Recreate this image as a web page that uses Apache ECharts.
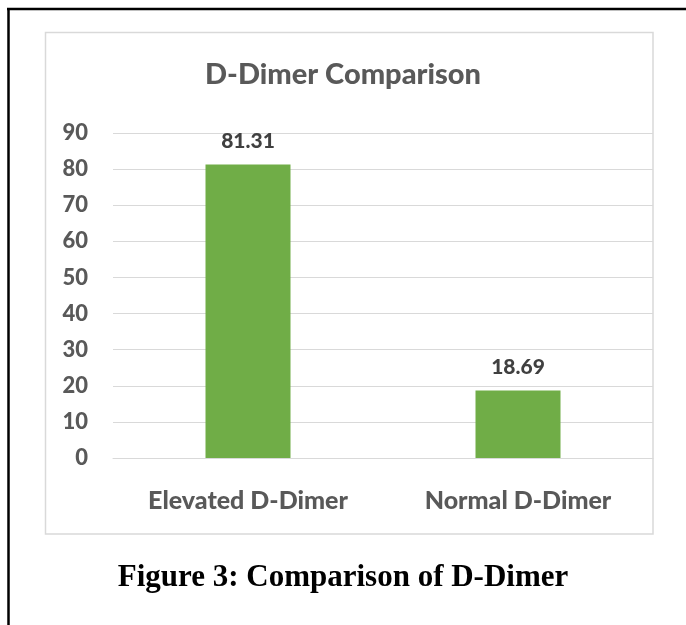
<!DOCTYPE html>
<html><head><meta charset="utf-8">
<script src="https://cdn.jsdelivr.net/npm/echarts@6/dist/echarts.min.js"></script>
<style>html,body{margin:0;padding:0;background:#fff}#c{width:686px;height:625px}</style>
</head><body><div id="c"></div>
<script>
const categories = ["Elevated D-Dimer", "Normal D-Dimer"];
const values = [81.31, 18.69];
const yTicks = [0, 10, 20, 30, 40, 50, 60, 70, 80, 90];
const chartTitle = "D-Dimer Comparison";
const caption = "Figure 3: Comparison of D-Dimer";

const chart = echarts.init(document.getElementById('c'), null, {renderer: 'canvas'});
chart.setOption({
  backgroundColor: '#fff',
  animation: false,
  title: {
    text: chartTitle, left: 'center', top: 55,
    textStyle: {fontFamily: 'Lato', fontWeight: 900, fontSize: 29, color: '#595959'}
  },
  graphic: [
    {type: 'line', shape: {x1: 7, y1: 9, x2: 686, y2: 9}, style: {stroke: '#000', lineWidth: 2.5}},
    {type: 'line', shape: {x1: 8.5, y1: 8, x2: 8.5, y2: 625}, style: {stroke: '#000', lineWidth: 2.5}},
    {type: 'rect', shape: {x: 45.5, y: 32.5, width: 607.5, height: 501.5}, style: {fill: 'none', stroke: '#d9d9d9', lineWidth: 1.5}},
    {type: 'text', left: 'center', top: 562, style: {text: caption, font: 'bold 31px "Liberation Serif", "Times New Roman", serif', fill: '#000'}}
  ],
  grid: {left: 113, right: 33, top: 133, bottom: 167, containLabel: false},
  xAxis: {
    type: 'category', data: categories,
    axisLine: {show: true, lineStyle: {color: '#d9d9d9', width: 1}},
    axisTick: {show: false},
    axisLabel: {fontFamily: 'Lato', fontWeight: 900, fontSize: 25, color: '#595959', margin: 30}
  },
  yAxis: {
    type: 'value', min: 0, max: 90, interval: 10,
    axisLine: {show: false}, axisTick: {show: false},
    splitLine: {lineStyle: {color: '#d9d9d9', width: 1}},
    axisLabel: {fontFamily: 'Lato', fontWeight: 900, fontSize: 22, color: '#595959', margin: 25,
      formatter: v => yTicks.includes(v) ? String(v) : ''}
  },
  series: [{
    type: 'bar', data: values, barWidth: 85,
    itemStyle: {color: '#70ad47'},
    label: {show: true, position: 'top', distance: 13, fontFamily: 'Lato', fontWeight: 900, fontSize: 21, color: '#404040',
      formatter: p => p.value.toFixed(2)}
  }]
});
</script></body></html>
